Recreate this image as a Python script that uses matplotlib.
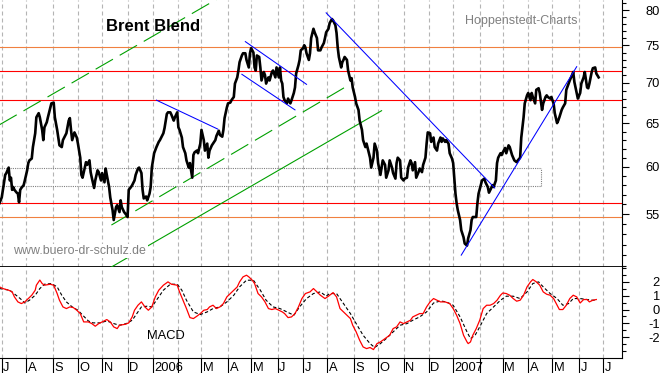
import pandas as pd
import matplotlib
matplotlib.use('Agg')
import matplotlib.pyplot as plt
from matplotlib.ticker import FixedLocator, FixedFormatter, NullFormatter
from matplotlib.transforms import blended_transform_factory, offset_copy

plt.rcParams['font.family'] = ['Liberation Sans', 'DejaVu Sans']

# x = trading day number counted from 29 Jun 2005
start = '2005-06-29'
last_day = 539.5

# Brent closing prices (USD)
price_day = [0, 2, 5, 6, 8, 9, 10, 11, 12, 13, 15, 16, 17, 18, 19, 21, 22, 24, 25, 26,
             28, 29, 31, 32, 34, 35, 37, 38, 39, 41, 42, 44, 45, 47, 48, 50, 51, 52, 54, 55,
             58, 60, 61, 62, 63, 65, 67, 68, 70, 71, 72, 75, 76, 78, 79, 80, 82, 83, 85, 86,
             88, 89, 91, 92, 93, 95, 96, 98, 99, 101, 102, 104, 105, 106, 108, 110, 111, 112, 114, 115,
             117, 118, 120, 121, 123, 124, 125, 127, 128, 130, 131, 132, 134, 136, 138,
             139, 142, 143, 145, 146, 148, 149, 151, 152, 154, 155, 156, 158, 159, 161, 162, 164, 165, 167, 168,
             169, 171, 172, 174, 175, 177, 178, 180, 181, 182, 184, 185, 187, 188, 190, 191, 193,
             194, 195, 197, 198, 200, 201, 203, 204, 206, 207, 208, 210, 211, 213, 214, 216, 217, 218, 220, 221,
             222, 223, 225, 226, 227, 229, 230, 231, 233, 234, 236, 237, 239, 240, 242, 243, 244, 245, 246, 247,
             249, 250, 252, 253, 255, 256, 257, 259, 260, 261, 263, 264, 265, 266, 268, 269, 270, 272, 273, 275,
             276, 278, 279, 281, 282, 283, 285, 286, 288, 289, 291, 292, 293, 294, 296, 297, 298, 299, 301, 302,
             304, 305, 306, 308, 309, 311, 312, 314,
             315, 317, 318, 320, 321, 322, 324, 325, 327, 328, 330, 331, 332, 334, 335, 337, 338, 340, 341, 343,
             344, 345,
             347, 348, 350, 351, 353, 354, 356, 357, 358, 360, 361, 363, 364, 366, 367, 369, 370, 371, 373, 374,
             376, 377, 379, 380, 382, 383, 384, 386, 387, 389, 390, 392, 393, 394, 395, 396, 397, 399, 400, 402,
             403, 405, 406, 408, 409, 410, 412, 413, 414, 415, 417, 418, 420, 421, 423, 424, 426, 427, 428, 430,
             431, 432, 434, 435, 436, 438, 439, 441, 442,
             444, 445, 446, 448, 449, 451, 452, 454, 455, 457, 458, 460, 461, 462, 464, 465, 467, 468, 470, 471,
             473, 474, 475, 477, 478, 480, 481, 483, 484, 485, 487, 488, 490, 491, 493, 494, 496, 497, 498, 500,
             501, 503, 504, 506, 507, 509, 510, 511, 513, 514, 516, 517, 519]
price_usd = [56.1, 56.7, 59.1, 59.3, 59.9, 58.5, 58.8, 57.5, 57.8, 57.5, 57.2, 57.1, 56.2, 57.5, 57.7, 58.0, 58.5, 59.6, 60.4, 60.7,
             60.9, 62.2, 63.8, 65.7, 66.2, 65.7, 64.2, 63.0, 64.5, 65.1, 65.7, 66.8, 67.4, 67.5, 65.7, 64.2, 63.3, 62.4, 62.2, 63.0,
             63.8, 65.3, 65.6, 64.2, 63.0, 63.9, 63.3, 62.6, 61.0, 59.1, 58.8, 60.5, 60.2, 60.7, 59.4, 58.8, 57.7, 58.5, 59.6, 59.4,
             58.5, 59.3, 58.3, 59.8, 59.1, 57.8, 56.7, 55.4, 54.4, 55.7, 55.9, 55.2, 56.4, 55.7, 55.2, 54.9, 54.7, 57.5, 57.8, 58.0,
             58.5, 59.1, 59.8, 59.9, 59.3, 57.5, 56.6, 56.8, 56.4, 57.1, 57.8, 59.9, 61.5, 62.2, 62.8,
             63.0, 63.8, 64.4, 66.1, 66.3, 66.3, 66.0, 65.3, 65.7, 66.3, 64.5, 64.2, 63.3, 62.2, 61.5, 60.7, 59.9, 60.4, 58.8, 61.3,
             61.6, 61.8, 61.5, 62.6, 64.2, 63.0, 61.8, 62.6, 61.0, 61.8, 62.4, 62.6, 63.0, 63.5, 64.1, 63.6, 63.4,
             64.2, 65.6, 66.9, 67.4, 67.5, 67.8, 68.2, 69.9, 70.7, 71.6, 72.7, 73.6, 73.9, 73.9, 73.0, 72.0, 73.9, 74.6, 74.0, 72.0,
             71.6, 73.6, 73.4, 72.0, 70.3, 71.4, 71.0, 69.9, 70.7, 70.3, 71.4, 71.6, 70.7, 72.0, 70.7, 72.0, 70.3, 69.9, 68.2, 67.8,
             67.4, 68.0, 67.4, 67.8, 68.7, 69.4, 71.2, 72.3, 73.0, 74.3, 74.6, 75.0, 74.7, 73.9, 73.0, 73.9, 76.0, 77.3, 76.8, 76.0,
             74.3, 74.3, 74.7, 75.3, 76.0, 76.8, 77.3, 78.1, 78.7, 78.5, 77.8, 76.7, 74.7, 73.4, 72.0, 72.7, 73.0, 73.4, 73.0, 71.6,
             70.3, 70.6, 69.4, 68.2, 67.4, 66.6, 65.3, 64.2,
             63.0, 62.2, 62.6, 61.5, 61.0, 59.9, 61.0, 62.6, 61.8, 60.4, 59.1, 59.9, 60.7, 60.2, 58.8, 59.6, 60.7, 59.9, 59.3, 58.7,
             60.4, 61.0,
             60.7, 58.8, 58.5, 58.7, 58.8, 59.9, 60.7, 60.4, 59.6, 60.5, 58.8, 59.4, 59.8, 59.4, 60.2, 61.0, 62.6, 63.9, 63.8, 62.8,
             63.3, 62.2, 61.8, 62.6, 63.3, 62.8, 63.2, 62.8, 63.0, 62.6, 61.5, 60.9, 60.4, 58.8, 57.1, 56.1, 55.4, 54.4, 53.4, 52.7,
             52.1, 51.9, 52.6, 53.4, 54.4, 54.7, 54.7, 54.7, 56.1, 57.1, 58.0, 58.5, 58.7, 58.3, 57.8, 57.2, 57.7, 58.0, 57.8, 58.5,
             60.4, 61.0, 61.5, 61.3, 61.6, 62.1, 61.5, 62.4, 62.2,
             61.3, 61.0, 60.7, 60.5, 60.7, 61.0, 63.3, 65.7, 67.4, 68.4, 68.7, 67.8, 68.7, 68.2, 67.4, 69.1, 69.3, 68.7, 66.6, 67.4,
             68.2, 68.4, 68.2, 68.0, 68.2, 67.4, 66.2, 65.0, 65.3, 65.7, 66.6, 66.9, 67.4, 69.1, 69.9, 70.3, 71.0, 71.4, 70.1, 68.7,
             68.0, 68.7, 69.9, 70.7, 71.4, 69.4, 69.3, 69.9, 71.4, 71.9, 72.0, 71.2, 70.7]

# MACD and its signal line
macd_day = [0, 3, 8, 11, 13, 16, 19, 22, 25, 28, 31, 32, 35, 37, 39, 44, 47, 50, 52, 55,
            58, 61, 64, 67, 70, 73, 77, 80, 83, 86, 89, 93, 96, 99, 102, 104, 109, 112, 115, 117,
            120, 123, 126, 129, 132, 135, 138, 142, 146, 149, 154, 156, 159, 162, 165, 168, 171, 174, 177, 180,
            182, 185, 188, 191, 194, 197, 200, 203, 206, 208, 211, 214, 216, 219, 221, 224, 227, 230, 233, 236,
            239, 242, 245, 247, 250, 253, 256, 259, 262, 265, 269, 272, 275, 278, 282, 285, 289, 292, 295, 298,
            301, 304, 306, 309, 312, 315, 318, 321, 324, 327, 330, 334, 338, 341, 344, 347, 350, 353, 356, 358,
            361, 364, 367, 370, 373, 376, 379, 382, 386, 390, 393, 396, 399, 402, 405, 406, 408, 410, 413, 416,
            419, 422, 425, 428, 431, 434, 436, 439, 442, 445, 448, 451, 454, 457, 460, 462, 465, 468, 471, 474,
            477, 480, 483, 485, 488, 491, 494, 497, 500, 503, 506, 509, 511, 514, 517]
macd = [1.63, 1.51, 1.39, 1.27, 0.91, 0.55, 0.43, 0.55, 0.79, 1.03, 1.39, 1.75, 2.12, 1.87, 1.75, 1.82, 1.75, 1.15, 0.67, 0.19,
        0.07, 0.19, 0.14, -0.05, -0.29, -0.89, -0.89, -1.01, -1.2, -1.01, -0.89, -0.72, -0.89, -1.25, -1.37, -1.13, -1.06, -0.96, -0.53, -0.05,
        0.31, 0.55, 0.19, -0.05, 0.19, 0.91, 1.39, 1.75, 1.99, 1.82, 1.75, 1.27, 0.67, 0.07, -0.58, -0.65, -0.48, -0.29, -0.05, 0.0,
        0.19, 0.31, 0.07, 0.19, 0.43, 0.91, 1.15, 1.39, 1.63, 1.99, 2.35, 2.47, 2.35, 2.11, 1.87, 1.15, 0.91, 0.55, 0.07, 0.0,
        0.07, -0.05, -0.17, -0.29, -0.58, -0.53, -0.29, 0.19, 0.79, 1.15, 1.27, 1.51, 1.27, 1.03, 0.79, 0.96, 1.22, 0.91, 0.07, -0.17,
        -0.41, -0.65, -1.13, -1.61, -2.21, -2.69, -2.81, -2.73, -2.88, -2.45, -2.33, -2.09, -1.85, -1.37, -1.25, -0.89, -1.01, -0.89, -0.77, -0.53,
        -0.41, -0.29, -0.29, 0.19, 0.55, 0.79, 0.67, 0.55, 0.55, 0.43, 0.07, -0.41, -1.01, -1.85, -2.33, -2.45, -2.33, -1.85, -1.37, -0.77,
        0.07, 0.31, 0.31, 0.43, 0.67, 1.03, 1.19, 1.15, 1.03, 0.79, 0.6, 0.67, 1.03, 1.63, 1.99, 2.16, 1.99, 1.75, 1.27, 1.1,
        1.03, 0.79, 0.31, 0.0, 0.0, 0.31, 0.79, 1.03, 0.91, 0.47, 0.72, 0.72, 0.55, 0.67, 0.72]
signal_day = [0, 9, 18, 22, 26, 31, 35, 39, 45, 50, 54, 58, 63, 68, 73, 77, 81, 87, 93, 99,
              104, 110, 115, 119, 123, 128, 132, 136, 142, 148, 154, 158, 162, 168, 174, 180, 185, 191, 197, 203,
              208, 214, 220, 226, 231, 237, 243, 249, 255, 260, 266, 272, 278, 283, 286, 292, 298, 304, 309, 315,
              321, 325, 330, 335, 341, 347, 353, 358, 364, 370, 376, 382, 387, 393, 399, 405, 408, 412, 416, 422,
              428, 434, 439, 445, 451, 457, 462, 467, 471, 477, 483, 488, 493, 497, 503, 509, 514, 517]
signal = [1.51, 1.39, 0.79, 0.47, 0.67, 1.03, 1.51, 1.82, 1.87, 1.63, 1.03, 0.55, 0.19, -0.05, -0.48, -0.82, -0.96, -0.96, -0.82, -1.01,
          -1.13, -1.01, -0.77, -0.29, 0.19, 0.24, 0.19, 0.67, 1.39, 1.82, 1.82, 1.39, 0.67, -0.17, -0.36, -0.17, 0.07, 0.19, 0.55, 1.03,
          1.63, 2.11, 2.11, 1.39, 0.67, 0.19, 0.07, -0.17, -0.41, 0.19, 0.79, 1.15, 1.27, 0.96, 1.15, 1.15, 0.43, -0.29, -1.01, -1.85,
          -2.45, -2.73, -2.45, -2.09, -1.61, -1.13, -1.01, -0.77, -0.53, -0.17, 0.47, 0.62, 0.55, 0.31, -0.53, -1.61, -2.09, -1.85, -1.25, -0.29,
          0.19, 0.67, 0.96, 0.96, 0.79, 1.27, 1.87, 1.99, 1.63, 1.15, 0.79, 0.31, 0.43, 0.79, 0.79, 0.72, 0.67, 0.67]

# drawn analysis: (day, price) end points
green_dashed = [([0, 200], [64.8, 82.8]), ([97, 299], [53.9, 69.4])]
green_solid = ([97, 331], [49.9, 66.5])
blue_lines = [([136, 189], [67.8, 64.3]),
              ([213, 266], [75.5, 69.8]),
              ([210, 256], [71.1, 66.6]),
              ([283, 429], [79.6, 57.7]),
              ([400, 500], [51.0, 72.1])]
red_levels = [71.5, 67.8, 56.1]
orange_levels = [74.7, 54.7]
box_days = [0, 469]
box_prices = [57.95, 59.8]

price_ticks = [55, 60, 65, 70, 75, 80]
macd_ticks = [-2, -1, 0, 1, 2]
month_letters = ['J', 'F', 'M', 'A', 'M', 'J', 'J', 'A', 'S', 'O', 'N', 'D']

days = pd.bdate_range(start, periods=560)
month_idx = [i for i in range(1, len(days))
             if days[i].month != days[i - 1].month and i < last_day]
month_lab = []
for i in month_idx:
    m = days[i].month
    if m == 1:
        month_lab.append(str(days[i].year))
    elif m == 2:
        month_lab.append('')
    else:
        month_lab.append(month_letters[m - 1])

W, H = 663, 373
fig = plt.figure(figsize=(W / 100, H / 100), dpi=100)
ax = fig.add_axes([0, 106 / H, 622.3 / W, 267 / H])
ax2 = fig.add_axes([0, 15.5 / H, 622.3 / W, 90.5 / H])

grid_kw = dict(color='#b4b4b4', lw=0.8, ls=(0, (3.6, 2.7)))

# ---- price panel
ax.set_yscale('log')
ax.set_xlim(0.5, last_day)
ax.set_ylim(49.9, 81.5)
for v in orange_levels:
    ax.axhline(v, color='#f08040', lw=0.8, zorder=2)
for v in red_levels:
    ax.axhline(v, color='#ff0000', lw=0.8, zorder=2)
ax.hlines(box_prices, box_days[0], box_days[1], color='#808080', lw=0.8, ls=(0, (1, 1)), zorder=2)
ax.vlines(box_days[1], box_prices[0], box_prices[1], color='#808080', lw=0.8, ls=(0, (1, 1)), zorder=2)
for xs, ys in green_dashed:
    ax.plot(xs, ys, color='#00a000', lw=0.8, ls=(0, (18, 7)), zorder=3)
ax.plot(green_solid[0], green_solid[1], color='#00a000', lw=0.8, zorder=3)
ax.plot(price_day, price_usd, color='black', lw=1.9, zorder=4)
for xs, ys in blue_lines:
    ax.plot(xs, ys, color='#0000ff', lw=0.75, zorder=5)

ax.set_xticks(month_idx)
ax.tick_params(axis='x', length=0, labelbottom=False)
ax.grid(axis='x', **grid_kw)
ax.set_axisbelow(True)
ax.yaxis.tick_right()
ax.yaxis.set_major_locator(FixedLocator(price_ticks))
ax.yaxis.set_major_formatter(FixedFormatter([str(t) for t in price_ticks]))
ax.yaxis.set_minor_locator(FixedLocator(list(range(50, 82))))
ax.yaxis.set_minor_formatter(NullFormatter())
ax.tick_params(axis='y', which='major', length=5, width=0.8, pad=22, labelsize=9.3)
ax.tick_params(axis='y', which='minor', length=2.7, width=0.8)
for lab in ax.get_yticklabels():
    lab.set_horizontalalignment('right')
ax.spines[['top', 'left']].set_visible(False)
ax.spines['right'].set_linewidth(0.8)
ax.spines['bottom'].set_linewidth(1.3)

ax.text(0.1703, 0.884, 'Brent Blend', transform=ax.transAxes, fontsize=12,
        fontweight='bold', va='baseline')
ax.text(0.7472, 0.910, 'Hoppenstedt-Charts', transform=ax.transAxes, fontsize=9,
        color='#808080', va='baseline')
ax.text(0.0214, 0.0487, 'www.buero-dr-schulz.de', transform=ax.transAxes, fontsize=8.9,
        color='#808080', va='baseline', zorder=6,
        bbox=dict(facecolor='white', edgecolor='none', pad=1.0))

# ---- MACD panel
ax2.set_xlim(0.5, last_day)
ax2.set_ylim(-3.45, 3.06)
ax2.plot(signal_day, signal, color='black', lw=0.8, ls=(0, (3, 2)), zorder=3)
ax2.plot(macd_day, macd, color='#ff0000', lw=0.9, zorder=4)
ax2.set_xticks(month_idx)
ax2.tick_params(axis='x', length=11.5, width=0.8, labelbottom=False)
ax2.grid(axis='x', **grid_kw)
ax2.set_axisbelow(True)
ax2.yaxis.tick_right()
ax2.yaxis.set_major_locator(FixedLocator(macd_ticks))
ax2.yaxis.set_major_formatter(FixedFormatter([str(t) for t in macd_ticks]))
ax2.yaxis.set_minor_locator(FixedLocator([-3, -2.5, -1.5, -0.5, 0.5, 1.5, 2.5, 3]))
ax2.yaxis.set_minor_formatter(NullFormatter())
ax2.tick_params(axis='y', which='major', length=5, width=0.8, pad=22, labelsize=9.3)
ax2.tick_params(axis='y', which='minor', length=2.7, width=0.8)
for lab in ax2.get_yticklabels():
    lab.set_horizontalalignment('right')
ax2.spines[['top', 'left']].set_visible(False)
ax2.spines['right'].set_linewidth(0.8)
ax2.spines['bottom'].set_linewidth(0.8)
ax2.text(0.2357, 0.204, 'MACD', transform=ax2.transAxes, fontsize=9.3, va='baseline')

trans = offset_copy(blended_transform_factory(ax2.transData, ax2.transAxes),
                    fig=fig, x=1.5, y=0, units='dots')
for i, lab in zip(month_idx, month_lab):
    ax2.text(i, -0.149, lab, transform=trans, ha='left', va='baseline', fontsize=9.3)

fig.savefig('out.png', dpi=100)
